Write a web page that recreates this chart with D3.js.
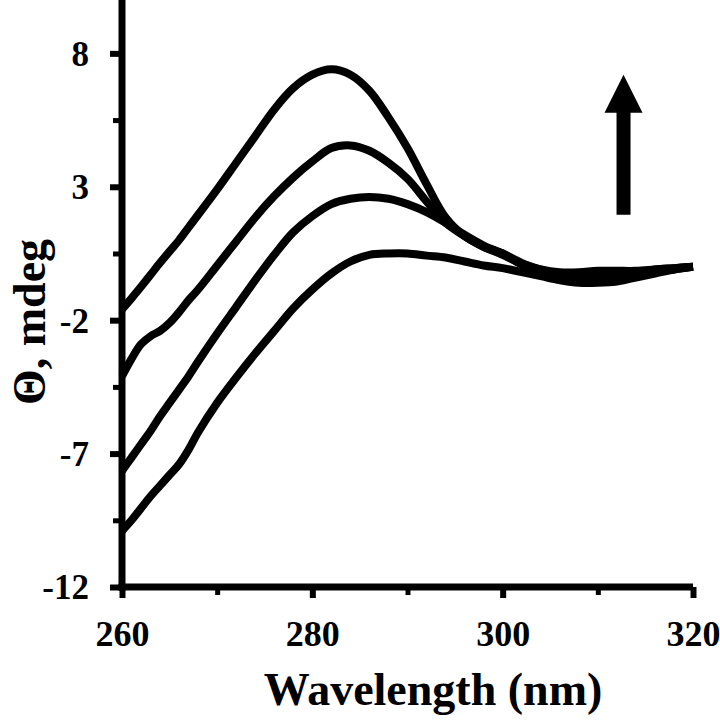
<!DOCTYPE html>
<html>
<head>
<meta charset="utf-8">
<script src="https://cdn.jsdelivr.net/npm/d3@7"></script>
<style>
  html, body { margin: 0; padding: 0; background: #fff; }
  svg { display: block; }
  text { font-family: "Liberation Serif", "Times New Roman", serif; font-weight: bold; fill: #000; }
</style>
</head>
<body>
<svg id="chart" width="720" height="724"></svg>
<script>
// ---- data ----
const wavelengths = [260,261,262,263,264,265,266,267,268,270,272,274,276,278,280,282,284,286,288,290,292,294,296,298,300,302,304,306,308,310,312,314,316,318,320];

const series1 = [-1.6,-1.18,-0.75,-0.3,0.15,0.58,1.0,1.48,1.95,2.9,3.9,4.9,5.9,6.7,7.2,7.4,7.2,6.6,5.6,4.45,3.1,1.85,1.15,0.75,0.45,0.1,-0.1,-0.2,-0.2,-0.15,-0.15,-0.15,-0.1,-0.05,0.0];
const series2 = [-4.1,-3.45,-2.9,-2.6,-2.4,-2.1,-1.7,-1.25,-0.85,0.05,0.95,1.85,2.65,3.35,3.95,4.45,4.55,4.35,3.9,3.3,2.45,1.65,1.15,0.75,0.5,0.1,-0.15,-0.3,-0.35,-0.3,-0.3,-0.25,-0.1,-0.05,0.0];
const series3 = [-7.65,-7.15,-6.65,-6.15,-5.6,-5.1,-4.6,-4.1,-3.55,-2.5,-1.5,-0.5,0.45,1.3,1.9,2.35,2.55,2.62,2.55,2.35,2.05,1.65,1.2,0.8,0.5,0.15,-0.1,-0.3,-0.4,-0.45,-0.4,-0.35,-0.2,-0.1,0.0];
const series4 = [-9.9,-9.5,-9.05,-8.6,-8.2,-7.8,-7.4,-6.85,-6.2,-5.1,-4.15,-3.25,-2.4,-1.55,-0.85,-0.25,0.2,0.45,0.5,0.5,0.42,0.35,0.2,0.05,-0.05,-0.2,-0.35,-0.5,-0.6,-0.6,-0.55,-0.4,-0.25,-0.1,0.0];

const xTicks = [260, 280, 300, 320];
const xMinorTicks = [270, 290, 310];
const yTicks = [-12, -7, -2, 3, 8];
const yMinorTicks = [-9.5, -4.5, 0.5, 5.5];

// arrow annotation: [wavelength, from value, to value]
const arrow = [312.7, 1.95, 7.2];

const xTitle = "Wavelength (nm)";
const yTitle = "\u0398, mdeg";

// ---- drawing ----
const svg = d3.select("#chart");
const x = d3.scaleLinear().domain([260, 320]).range([122, 693]);
const y = d3.scaleLinear().domain([-12, 10]).range([587, 0]);

const allSeries = [series1, series2, series3, series4];
const line = d3.line()
  .x((d, i) => x(wavelengths[i]))
  .y(d => y(d))
  .curve(d3.curveCatmullRom.alpha(0.5));

svg.append("g").selectAll("path")
  .data(allSeries)
  .join("path")
  .attr("d", d => line(d))
  .attr("fill", "none")
  .attr("stroke", "#000")
  .attr("stroke-width", 8)
  .attr("stroke-linejoin", "round")
  .attr("stroke-linecap", "butt");

const plainFmt = d => String(d);

// Y axis
const yAxis = svg.append("g").attr("transform", `translate(${x(260)},0)`)
  .call(d3.axisLeft(y).tickValues(yTicks).tickFormat(plainFmt).tickSize(12).tickSizeOuter(0).tickPadding(21));
yAxis.select(".domain").remove();
yAxis.selectAll(".tick line").attr("stroke", "#000").attr("stroke-width", 6);
yAxis.selectAll(".tick text").style("font-size", "35px").attr("dy", "0.34em");

const yMinor = svg.append("g").attr("transform", `translate(${x(260)},0)`)
  .call(d3.axisLeft(y).tickValues(yMinorTicks).tickSize(9).tickSizeOuter(0).tickFormat(""));
yMinor.select(".domain").remove();
yMinor.selectAll(".tick line").attr("stroke", "#000").attr("stroke-width", 5);

// X axis
const xAxis = svg.append("g").attr("transform", `translate(0,${y(-12)})`)
  .call(d3.axisBottom(x).tickValues(xTicks).tickFormat(plainFmt).tickSize(11).tickSizeOuter(0).tickPadding(22));
xAxis.select(".domain").remove();
xAxis.selectAll(".tick line").attr("stroke", "#000").attr("stroke-width", 6);
xAxis.selectAll(".tick text").style("font-size", "36px").attr("dy", "0.71em");

const xMinor = svg.append("g").attr("transform", `translate(0,${y(-12)})`)
  .call(d3.axisBottom(x).tickValues(xMinorTicks).tickSize(8).tickSizeOuter(0).tickFormat(""));
xMinor.select(".domain").remove();
xMinor.selectAll(".tick line").attr("stroke", "#000").attr("stroke-width", 5);

// axis lines
svg.append("line")
  .attr("x1", x(260)).attr("x2", x(260))
  .attr("y1", y(10)).attr("y2", y(-12) + 3.5)
  .attr("stroke", "#000").attr("stroke-width", 7);
svg.append("line")
  .attr("x1", x(260) - 3.5).attr("x2", x(320))
  .attr("y1", y(-12)).attr("y2", y(-12))
  .attr("stroke", "#000").attr("stroke-width", 7);

// axis titles
svg.append("text")
  .attr("x", 433).attr("y", 705)
  .attr("text-anchor", "middle")
  .style("font-size", "46px")
  .text(xTitle);
svg.append("text")
  .attr("transform", `translate(45,322) rotate(-90)`)
  .attr("text-anchor", "middle")
  .style("font-size", "46px")
  .text(yTitle);

// arrow
const ax = x(arrow[0]);
const yBottom = y(arrow[1]);
const yTip = y(arrow[2]);
const headLen = 38, headHalf = 19, shaftHalf = 7;
svg.append("path")
  .attr("d", `M${ax - shaftHalf},${yBottom} L${ax - shaftHalf},${yTip + headLen} L${ax - headHalf},${yTip + headLen} L${ax},${yTip} L${ax + headHalf},${yTip + headLen} L${ax + shaftHalf},${yTip + headLen} L${ax + shaftHalf},${yBottom} Z`)
  .attr("fill", "#000");
</script>
</body>
</html>
